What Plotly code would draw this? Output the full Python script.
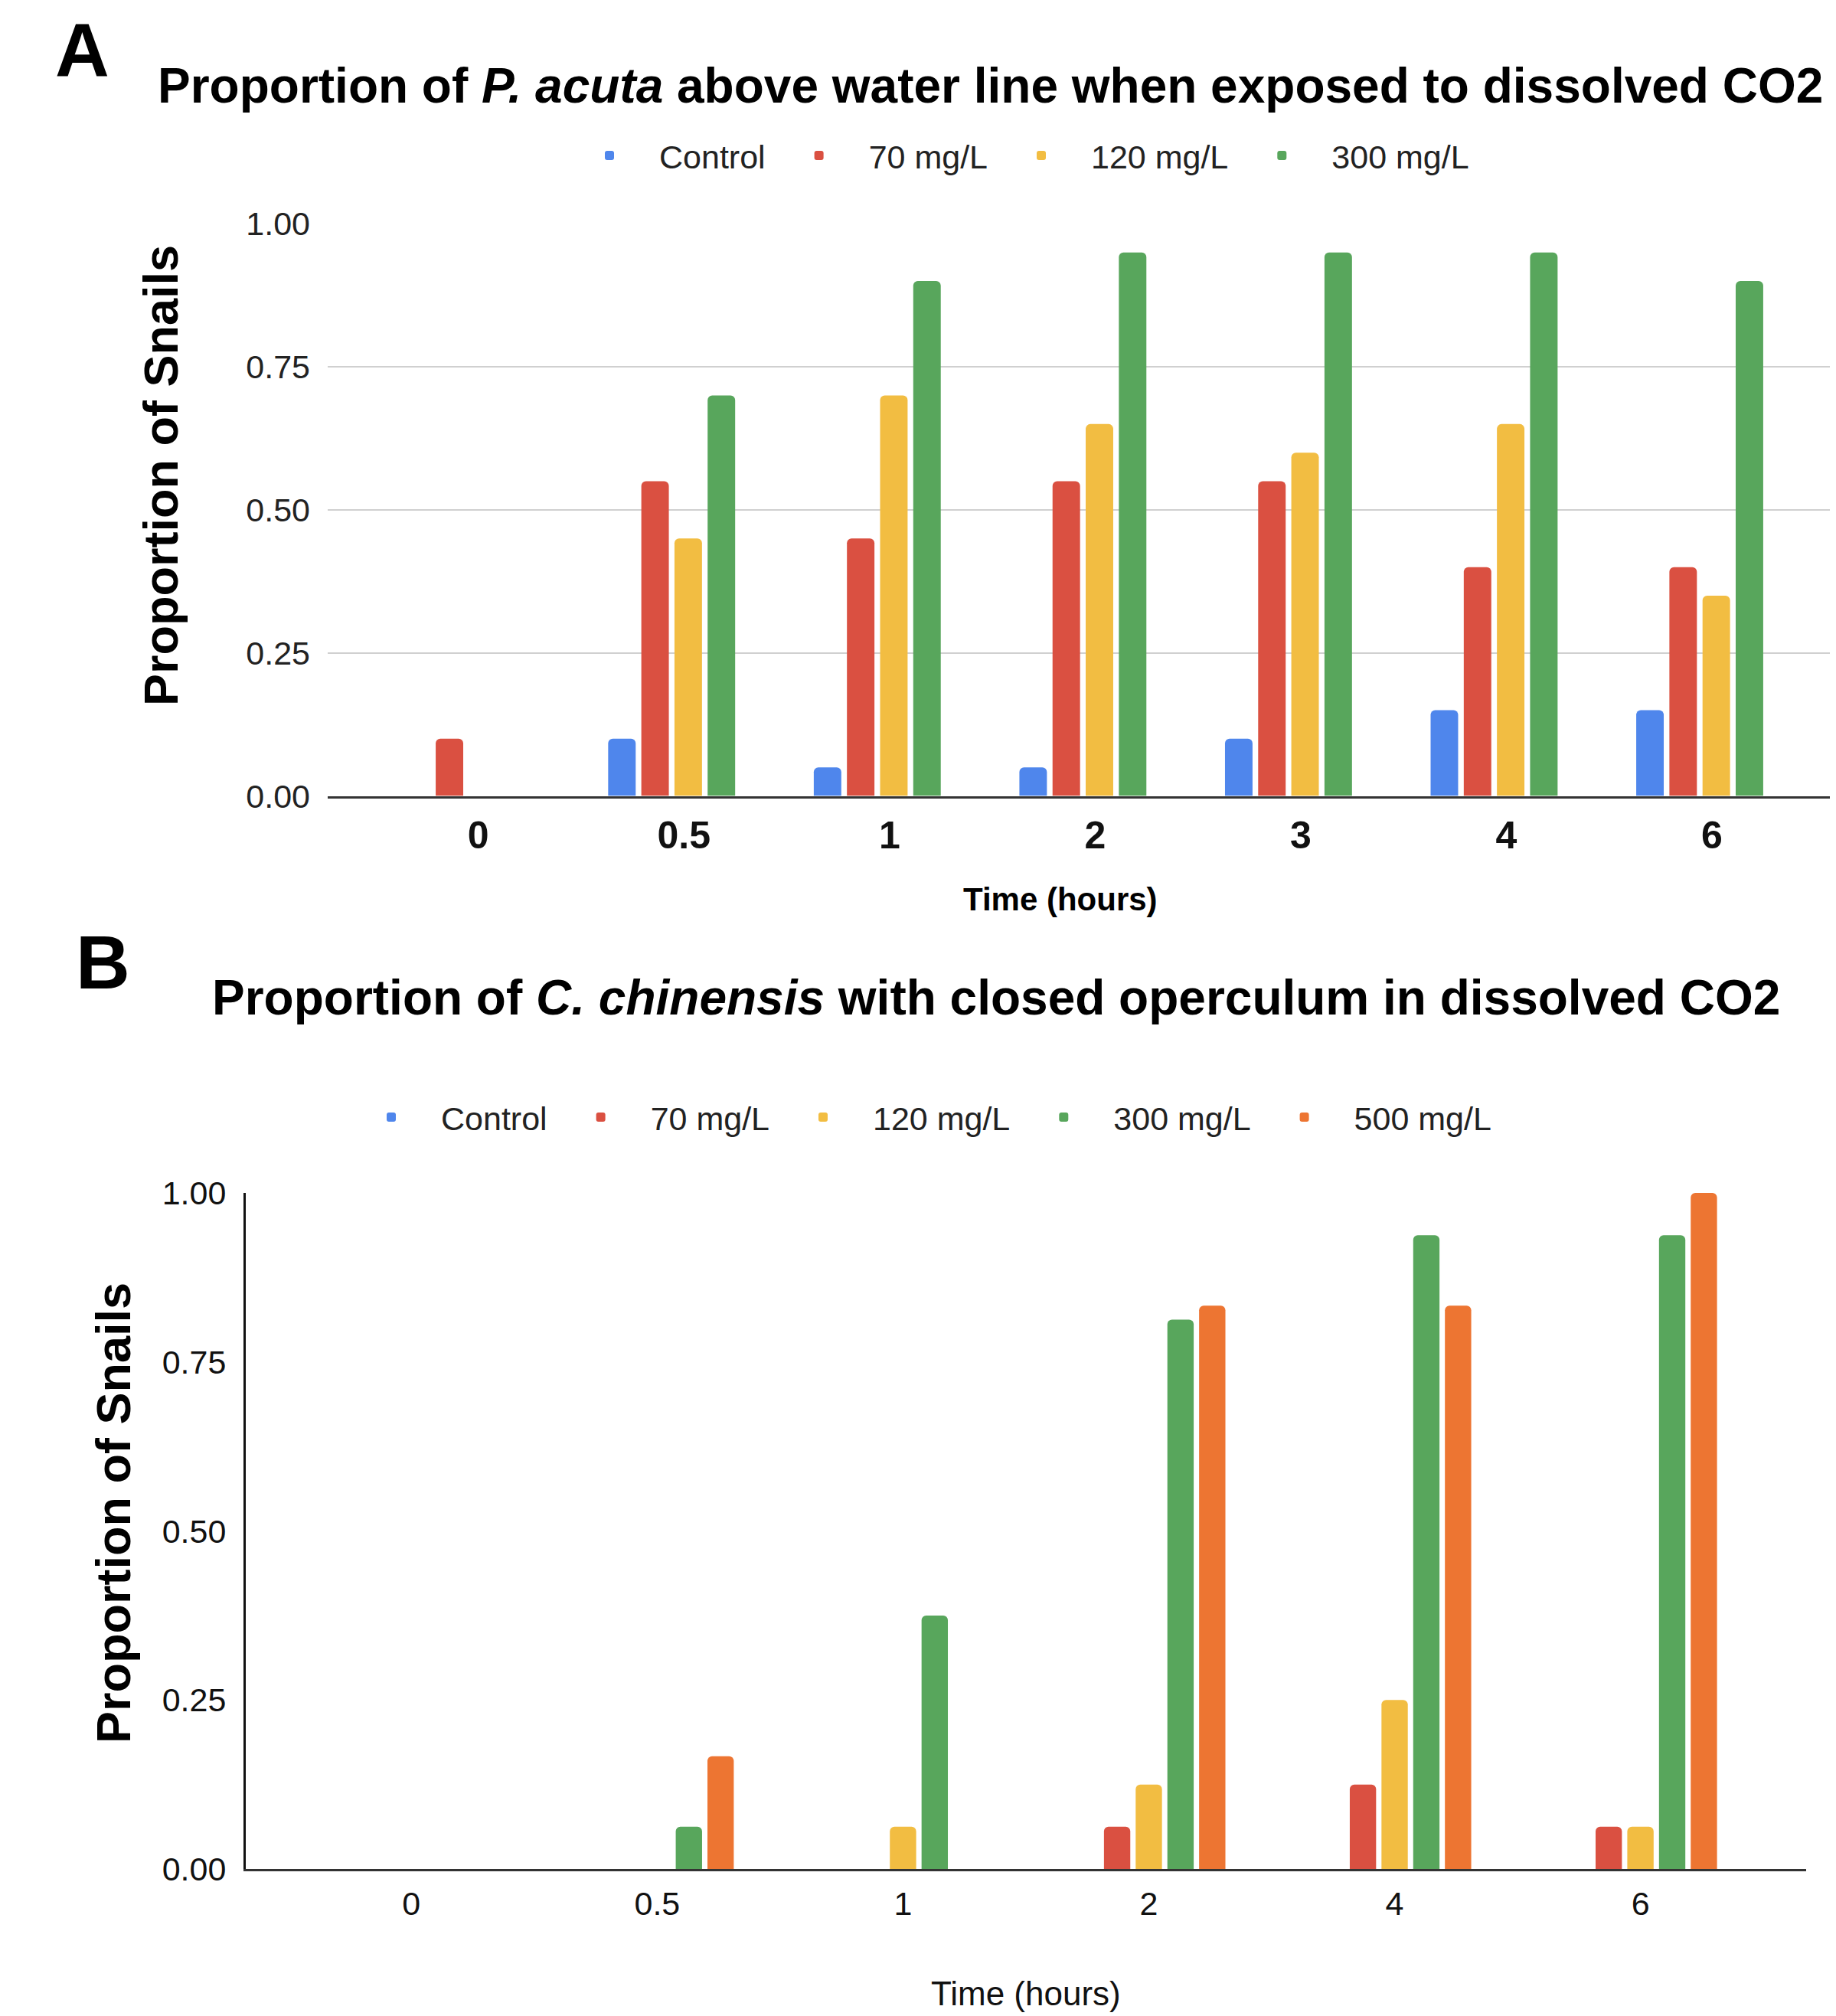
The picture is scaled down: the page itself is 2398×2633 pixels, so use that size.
import plotly.graph_objects as go

# ---------------- data ----------------
times_a = ["0", "0.5", "1", "2", "3", "4", "6"]
a_control = [0.00, 0.10, 0.05, 0.05, 0.10, 0.15, 0.15]
a_70 = [0.10, 0.55, 0.45, 0.55, 0.55, 0.40, 0.40]
a_120 = [0.00, 0.45, 0.70, 0.65, 0.60, 0.65, 0.35]
a_300 = [0.00, 0.70, 0.90, 0.95, 0.95, 0.95, 0.90]

times_b = ["0", "0.5", "1", "2", "4", "6"]
b_control = [0, 0, 0, 0, 0, 0]
b_70 = [0, 0, 0, 0.0625, 0.125, 0.0625]
b_120 = [0, 0, 0.0625, 0.125, 0.25, 0.0625]
b_300 = [0, 0.0625, 0.375, 0.8125, 0.9375, 0.9375]
b_500 = [0, 0.1667, 0, 0.8333, 0.8333, 1.0]

y_ticks = [0, 0.25, 0.5, 0.75, 1.0]
names_a = ["Control", "70 mg/L", "120 mg/L", "300 mg/L"]
names_b = ["Control", "70 mg/L", "120 mg/L", "300 mg/L", "500 mg/L"]
colors = ["#4F86EC", "#DA5041", "#F2BD42", "#58A65C", "#ED7532"]

FONT = "Liberation Sans, Arial, Helvetica, sans-serif"
W, H = 2398, 2633
OFF = 8  # page body margin offset


def px(x):
    return (x - OFF) / W


def py(y):
    return 1 - (y - OFF) / H


fig = go.Figure()

for name, vals, col in zip(names_a, [a_control, a_70, a_120, a_300], colors):
    fig.add_trace(go.Bar(
        x=times_a, y=vals, name=name, xaxis="x", yaxis="y", legend="legend",
        marker=dict(color=col, cornerradius=6, line=dict(width=0)),
    ))

for name, vals, col in zip(names_b, [b_control, b_70, b_120, b_300, b_500], colors):
    fig.add_trace(go.Bar(
        x=times_b, y=vals, name=name, xaxis="x2", yaxis="y2", legend="legend2",
        marker=dict(color=col, cornerradius=6, line=dict(width=0)),
    ))

# category-axis ranges (Google-Sheets style padding)
a_left, a_c0, a_step = 428, 608.7, 268.55
a_rng = [-(a_c0 - a_left) / a_step, (W + OFF - a_c0) / a_step]
b_left, b_right, b_c0, b_step = 321, 2359, 537.3, 321.06
b_rng = [-(b_c0 - b_left) / b_step, (b_right - b_c0) / b_step]

fig.update_layout(
    width=W, height=H, autosize=False,
    margin=dict(l=0, r=0, t=0, b=0, autoexpand=False),
    paper_bgcolor="white", plot_bgcolor="white",
    font=dict(family=FONT, color="#222"),
    barmode="group", bargap=0.355, bargroupgap=0.17,
    showlegend=True,
    legend=dict(orientation="h", x=px(731), xanchor="left", y=py(203), yanchor="middle",
                font=dict(size=43, color="#222"), itemwidth=120, bgcolor="rgba(0,0,0,0)",
                traceorder="normal"),
    legend2=dict(orientation="h", x=px(446), xanchor="left", y=py(1459), yanchor="middle",
                 font=dict(size=43, color="#222"), itemwidth=120, bgcolor="rgba(0,0,0,0)",
                 traceorder="normal"),
    xaxis=dict(domain=[px(a_left), 1.0], anchor="y", type="category", range=a_rng,
               showline=True, linecolor="#333", linewidth=3, showgrid=False, zeroline=False,
               ticks="", tickfont=dict(size=50, color="#111", weight="bold"),
               ticklabelstandoff=5, ticklabelshift=16),
    yaxis=dict(domain=[py(1039.5), py(292)], anchor="x", range=[0, 1.0005],
               tickvals=y_ticks, tickformat=".2f", showgrid=True, gridcolor="#D0D0D0",
               gridwidth=2, zeroline=False, showline=False, ticks="",
               tickfont=dict(size=43, color="#222"), ticklabelstandoff=22),
    xaxis2=dict(domain=[px(b_left), px(b_right)], anchor="y2", type="category", range=b_rng,
                showline=True, linecolor="#333", linewidth=3, showgrid=False, zeroline=False,
                ticks="", tickfont=dict(size=43, color="#111"), ticklabelstandoff=5),
    yaxis2=dict(domain=[py(2441), py(1558)], anchor="x2", range=[0, 1.0],
                tickvals=y_ticks, tickformat=".2f", showgrid=False, zeroline=False,
                showline=True, linecolor="#111", linewidth=3, ticks="",
                tickfont=dict(size=43, color="#111"), ticklabelstandoff=14),
)


def ann(text, x, y, size, angle=0, color="#000"):
    fig.add_annotation(text=text, x=px(x), y=py(y), xref="paper", yref="paper",
                       xanchor="center", yanchor="middle", showarrow=False,
                       textangle=angle, font=dict(size=size, color=color, family=FONT))


ann("<b>A</b>", 107, 65, 98)
ann("<b>B</b>", 135, 1257, 98)
ann("<b>Proportion of <i>P. acuta</i> above water line when exposed to dissolved CO2</b>",
    1293, 112, 64)
ann("<b>Proportion of <i>C. chinensis</i> with closed operculum in dissolved CO2</b>",
    1301, 1303, 64)
ann("<b>Proportion of Snails</b>", 210, 621, 63, angle=-90)
ann("<b>Time (hours)</b>", 1385, 1174, 42)
ann("<b>Proportion of Snails</b>", 148, 1976, 63, angle=-90)
ann("Time (hours)", 1340, 2603, 44, color="#111")

fig.write_html("out.html")
